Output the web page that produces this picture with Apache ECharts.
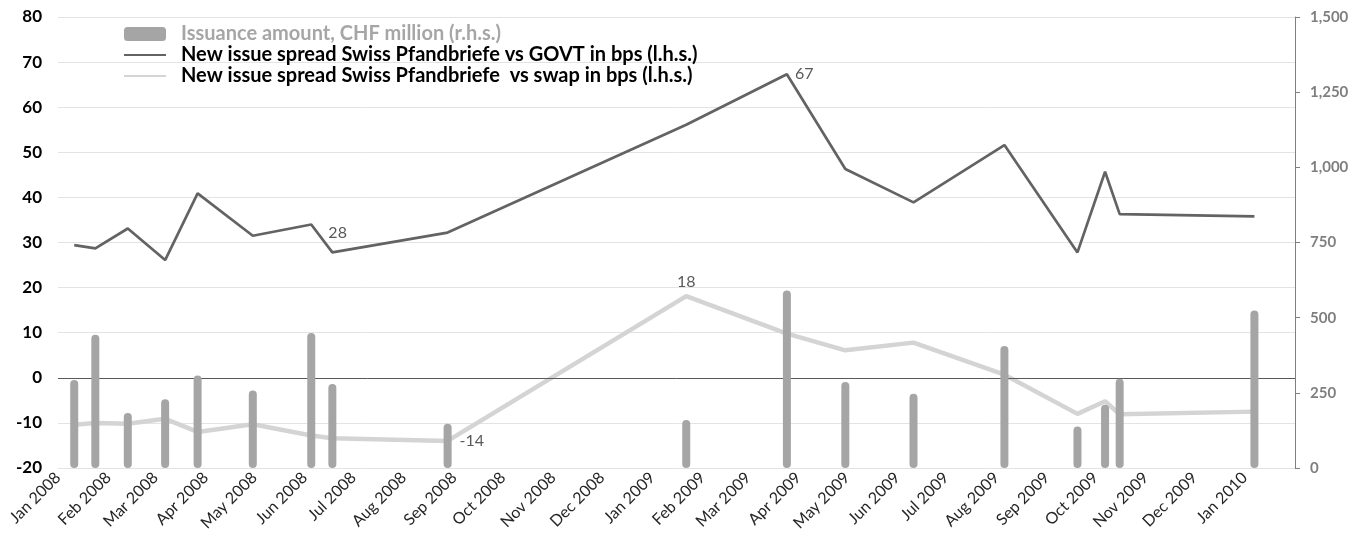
<!DOCTYPE html>
<html>
<head>
<meta charset="utf-8">
<script src="https://cdn.jsdelivr.net/npm/echarts@6/dist/echarts.min.js"></script>
<style>
html,body{margin:0;padding:0;background:#fff;}
#chart{width:1363px;height:548px;}
</style>
</head>
<body>
<div id="chart"></div>
<script>
// ---- data ----
const dates = ['2008-01-11','2008-01-24','2008-02-13','2008-03-07','2008-03-27','2008-04-30','2008-06-05','2008-06-18','2008-08-28',
               '2009-01-22','2009-03-25','2009-04-30','2009-06-11','2009-08-06','2009-09-20','2009-10-07','2009-10-16','2010-01-07'];
const issuance = [293, 443, 183, 229, 308, 258, 449, 279, 147, 160, 590, 286, 247, 406, 138, 210, 297, 524];
const govtSpread = [29.4, 28.7, 33.1, 26.1, 40.9, 31.5, 34.0, 27.8, 32.2, 56.1, 67.3, 46.3, 38.9, 51.6, 27.8, 45.7, 36.3, 35.8];
const swapSpread = [-10.4, -10.0, -10.2, -9.1, -12.0, -10.3, -12.8, -13.4, -14.0, 18.1, 9.8, 6.1, 7.8, 0.7, -8.0, -5.2, -8.1, -7.5];
const govtLabelIdx = [7, 10];
const swapLabelIdx = [8, 9];
const seriesNames = ['Issuance amount, CHF million (r.h.s.)',
                     'New issue spread Swiss Pfandbriefe vs GOVT in bps (l.h.s.)',
                     'New issue spread Swiss Pfandbriefe  vs swap in bps (l.h.s.)'];
const monthNames = ['Jan','Feb','Mar','Apr','May','Jun','Jul','Aug','Sep','Oct','Nov','Dec'];
const xRange = {min: '2008-01-01', max: '2010-02-01'};
const leftTicks = {min: -20, max: 80, interval: 10};
const rightTicks = {min: 0, max: 1500, interval: 250};

// ---- chart ----
const FONT = 'Lato';
const DAY = 24 * 3600 * 1000;
const BAR_W = 8;
const BAR_COLOR = '#a5a5a5';
const chart = echarts.init(document.getElementById('chart'), null, {renderer: 'canvas'});
const xMaxTs = echarts.time.parse(xRange.max).getTime();

const labelStyles = {
  7: {show: true, position: 'right', offset: [-9, -20]},
  10: {show: true, position: 'right', distance: 8},
  8: {show: true, position: 'right', distance: 12},
  9: {show: true, position: 'top', distance: 6}
};
function buildLine(values, labelIdx) {
  return values.map((v, i) => {
    const item = {value: [dates[i], v]};
    if (labelIdx.includes(i)) item.label = labelStyles[i];
    return item;
  });
}
const lblCommon = {
  show: false, color: '#595959', fontFamily: FONT, fontSize: 16,
  formatter: p => String(Math.round(p.value[1]))
};

function renderBar(params, api) {
  const top = api.coord([api.value(0), api.value(1)]);
  const base = api.coord([api.value(0), 0]);
  const r = BAR_W / 2;
  return {
    type: 'rect',
    shape: {x: top[0] - r, y: top[1], width: BAR_W, height: base[1] - top[1], r: r},
    style: {fill: BAR_COLOR}
  };
}

chart.setOption({
  animation: false,
  backgroundColor: '#fff',
  grid: {left: 58, right: 68, top: 17, bottom: 80, containLabel: false},
  legend: {
    orient: 'vertical', left: 118, top: 19, itemGap: 1,
    itemWidth: 42, itemHeight: 14,
    textStyle: {fontFamily: FONT, fontSize: 20, fontWeight: 'bold', color: '#000', padding: [0, 0, 0, 10]},
    data: [
      {name: seriesNames[0], icon: 'roundRect', itemStyle: {color: BAR_COLOR}, textStyle: {color: '#a6a6a6'}},
      {name: seriesNames[1], itemStyle: {opacity: 0}},
      {name: seriesNames[2], itemStyle: {opacity: 0}}
    ]
  },
  xAxis: {
    type: 'time',
    min: xRange.min, max: xRange.max,
    minInterval: 28 * DAY,
    maxInterval: 31 * DAY,
    splitNumber: 25,
    axisLine: {show: false}, axisTick: {show: false}, splitLine: {show: false},
    axisLabel: {
      rotate: 45, fontFamily: FONT, fontSize: 16, color: '#262626', margin: 7,
      hideOverlap: false,
      formatter: v => {
        if (v >= xMaxTs - DAY) return '';
        const d = new Date(v + 12 * 3600 * 1000);
        return monthNames[d.getMonth()] + ' ' + d.getFullYear();
      }
    }
  },
  yAxis: [
    {
      type: 'value', position: 'left', min: leftTicks.min, max: leftTicks.max, interval: leftTicks.interval,
      axisLine: {show: false}, axisTick: {show: false},
      splitLine: {lineStyle: {color: '#e3e3e3', width: 1}},
      axisLabel: {fontFamily: FONT, fontSize: 17, fontWeight: 'bold', color: '#000', margin: 16}
    },
    {
      type: 'value', position: 'right', min: rightTicks.min, max: rightTicks.max, interval: rightTicks.interval,
      axisLine: {show: true, lineStyle: {color: '#7f7f7f', width: 1}},
      axisTick: {show: true, inside: false, length: 5, lineStyle: {color: '#7f7f7f'}},
      splitLine: {show: false},
      axisLabel: {fontFamily: FONT, fontSize: 15, fontWeight: 'bold', color: '#7f7f7f', margin: 15,
                  formatter: v => v.toLocaleString('en-US')}
    }
  ],
  series: [
    {
      name: seriesNames[0], type: 'custom', yAxisIndex: 1, z: 5,
      itemStyle: {color: BAR_COLOR},
      renderItem: renderBar,
      encode: {x: 0, y: 1},
      data: issuance.map((v, i) => [dates[i], v])
    },
    {
      name: seriesNames[1], type: 'line', yAxisIndex: 0, symbol: 'circle', symbolSize: 0, showSymbol: true, z: 3,
      lineStyle: {color: '#636363', width: 2.7}, itemStyle: {color: '#636363'},
      label: lblCommon,
      data: buildLine(govtSpread, govtLabelIdx),
      markLine: {
        silent: true, symbol: ['none', 'none'], label: {show: false},
        lineStyle: {color: '#595959', width: 1, type: 'solid'},
        data: [{yAxis: 0}]
      }
    },
    {
      name: seriesNames[2], type: 'line', yAxisIndex: 0, symbol: 'circle', symbolSize: 0, showSymbol: true, z: 2,
      lineStyle: {color: '#d4d4d4', width: 4.5}, itemStyle: {color: '#d4d4d4'},
      label: lblCommon,
      data: buildLine(swapSpread, swapLabelIdx)
    }
  ]
});
</script>
</body>
</html>
